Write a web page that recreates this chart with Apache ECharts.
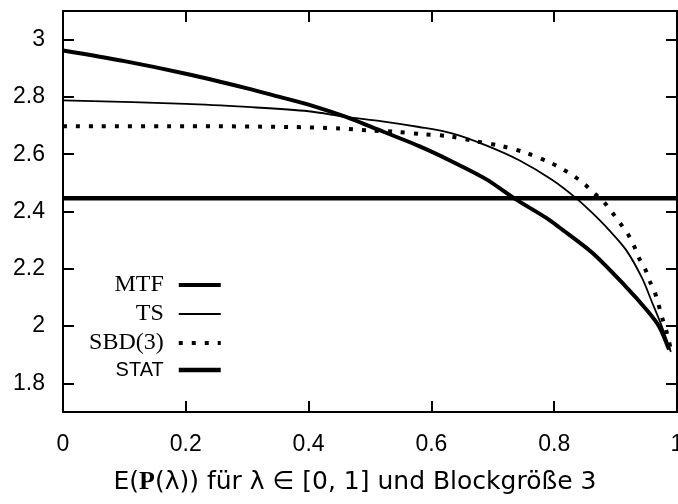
<!DOCTYPE html>
<html>
<head>
<meta charset="utf-8">
<script src="https://cdn.jsdelivr.net/npm/echarts@6/dist/echarts.min.js"></script>
<style>html,body{margin:0;padding:0;background:#fff}#c{width:678px;height:504px}</style>
</head>
<body>
<div id="c"></div>
<script>
const xTicks = [0, 0.2, 0.4, 0.6, 0.8, 1];
const yTicks = [1.8, 2, 2.2, 2.4, 2.6, 2.8, 3];

const mtfX = [0, 0.1, 0.2, 0.3, 0.353, 0.4, 0.461, 0.5, 0.58, 0.635, 0.689, 0.735, 0.789, 0.808, 0.862, 0.917, 0.95, 0.971, 0.987];
const mtfY = [2.962, 2.925, 2.881, 2.83, 2.80, 2.773, 2.73, 2.697, 2.628, 2.573, 2.513, 2.446, 2.375, 2.345, 2.256, 2.137, 2.058, 1.998, 1.918];

const tsX = [0, 0.2, 0.3, 0.4, 0.461, 0.52, 0.58, 0.635, 0.689, 0.743, 0.797, 0.836, 0.862, 0.889, 0.917, 0.943, 0.959, 0.976, 0.99];
const tsY = [2.788, 2.776, 2.765, 2.75, 2.73, 2.715, 2.695, 2.672, 2.631, 2.579, 2.51, 2.446, 2.395, 2.336, 2.266, 2.168, 2.085, 1.995, 1.91];

const sbdX = [0, 0.2, 0.37, 0.45, 0.5, 0.543, 0.585, 0.628, 0.67, 0.713, 0.754, 0.794, 0.8135, 0.8325, 0.849, 0.865, 0.881, 0.894, 0.907, 0.919, 0.93, 0.938, 0.948, 0.956, 0.963, 0.969, 0.976, 0.982, 0.987, 0.99];
const sbdY = [2.698, 2.698, 2.695, 2.69, 2.683, 2.678, 2.670, 2.663, 2.646, 2.629, 2.605, 2.570, 2.548, 2.523, 2.496, 2.464, 2.433, 2.398, 2.36, 2.325, 2.28, 2.238, 2.2, 2.155, 2.123, 2.082, 2.028, 1.988, 1.945, 1.92];

const statX = [0, 1];
const statY = [2.446, 2.446];

const names = ['MTF', 'TS', 'SBD(3)', 'STAT'];

const pairs = (xs, ys) => xs.map((x, i) => [x, ys[i]]);
const tickFont = 'Liberation Sans';

const chart = echarts.init(document.getElementById('c'), null, {renderer: 'canvas'});
const lineMTF = {color: '#000', width: 4};
const lineTS = {color: '#000', width: 1.8};
const lineSBD = {color: '#000', width: 4, type: [4, 9], cap: 'butt'};
const lineSTAT = {color: '#000', width: 4.5};
const hideSym = {color: 'rgba(0,0,0,0)', borderColor: 'rgba(0,0,0,0)', borderWidth: 0, opacity: 0};

chart.setOption({
  animation: false,
  backgroundColor: '#fff',
  grid: {left: 63, right: 1, top: 11, bottom: 92, containLabel: false, outerBoundsMode: 'none'},
  legend: {
    orient: 'vertical',
    align: 'right',
    right: 450,
    top: 268,
    itemWidth: 42,
    itemHeight: 14,
    itemGap: 5,
    selectedMode: false,
    itemStyle: hideSym,
    textStyle: {
      color: '#000', fontSize: 22, lineHeight: 20, padding: [0, 10, 0, 0],
      rich: {
        r: {fontFamily: 'Liberation Serif', fontSize: 24, color: '#000', lineHeight: 20},
        s: {fontFamily: tickFont, fontSize: 20, color: '#000', lineHeight: 20}
      }
    },
    formatter: n => n === 'STAT' ? '{s|' + n + '}' : '{r|' + n + '}',
    data: [
      {name: names[0], lineStyle: lineMTF, itemStyle: hideSym},
      {name: names[1], lineStyle: lineTS, itemStyle: hideSym},
      {name: names[2], lineStyle: lineSBD, itemStyle: hideSym},
      {name: names[3], lineStyle: lineSTAT, itemStyle: hideSym}
    ]
  },
  xAxis: [{
    type: 'value', min: 0, max: 1, interval: 0.2, position: 'bottom',
    axisLine: {show: true, onZero: false, lineStyle: {color: '#000', width: 2}},
    axisTick: {show: true, inside: true, length: 11, lineStyle: {color: '#000', width: 2}},
    splitLine: {show: false},
    axisLabel: {color: '#000', fontFamily: tickFont, fontSize: 23, margin: 21, formatter: v => String(v)},
    name: '{a|E(}{b|P}{a|(λ)) für λ ∈ [0, 1] und Blockgröße 3}',
    nameLocation: 'middle',
    nameGap: 57,
    nameTextStyle: {
      padding: [0, 30, 0, 0],
      rich: {
        a: {fontFamily: 'DejaVu Sans', fontSize: 25, color: '#000'},
        b: {fontFamily: 'Liberation Serif', fontWeight: 'bold', fontSize: 26, color: '#000'}
      }
    }
  }, {
    type: 'value', min: 0, max: 1, interval: 0.2, position: 'top',
    axisLine: {show: true, onZero: false, lineStyle: {color: '#000', width: 2}},
    axisTick: {show: true, inside: true, length: 11, lineStyle: {color: '#000', width: 2}},
    splitLine: {show: false},
    axisLabel: {show: false}
  }],
  yAxis: [{
    type: 'value', min: 1.7, max: 3.1, position: 'left',
    axisLine: {show: true, onZero: false, lineStyle: {color: '#000', width: 2}},
    axisTick: {show: true, inside: true, length: 11, lineStyle: {color: '#000', width: 2}, customValues: yTicks},
    splitLine: {show: false},
    axisLabel: {color: '#000', fontFamily: tickFont, fontSize: 23, margin: 18, customValues: yTicks, formatter: v => String(v)}
  }, {
    type: 'value', min: 1.7, max: 3.1, position: 'right',
    axisLine: {show: true, onZero: false, lineStyle: {color: '#000', width: 2}},
    axisTick: {show: true, inside: true, length: 11, lineStyle: {color: '#000', width: 2}, customValues: yTicks},
    splitLine: {show: false},
    axisLabel: {show: false}
  }],
  series: [
    {name: names[0], type: 'line', data: pairs(mtfX, mtfY), symbol: 'none', smooth: 0.3, lineStyle: lineMTF, itemStyle: {color: '#000'}, silent: true},
    {name: names[1], type: 'line', data: pairs(tsX, tsY), symbol: 'none', smooth: 0.3, lineStyle: lineTS, itemStyle: {color: '#000'}, silent: true},
    {name: names[2], type: 'line', data: pairs(sbdX, sbdY), symbol: 'none', smooth: 0.3, lineStyle: lineSBD, itemStyle: {color: '#000'}, silent: true},
    {name: names[3], type: 'line', data: pairs(statX, statY), symbol: 'none', lineStyle: lineSTAT, itemStyle: {color: '#000'}, silent: true}
  ]
});
</script>
</body>
</html>
